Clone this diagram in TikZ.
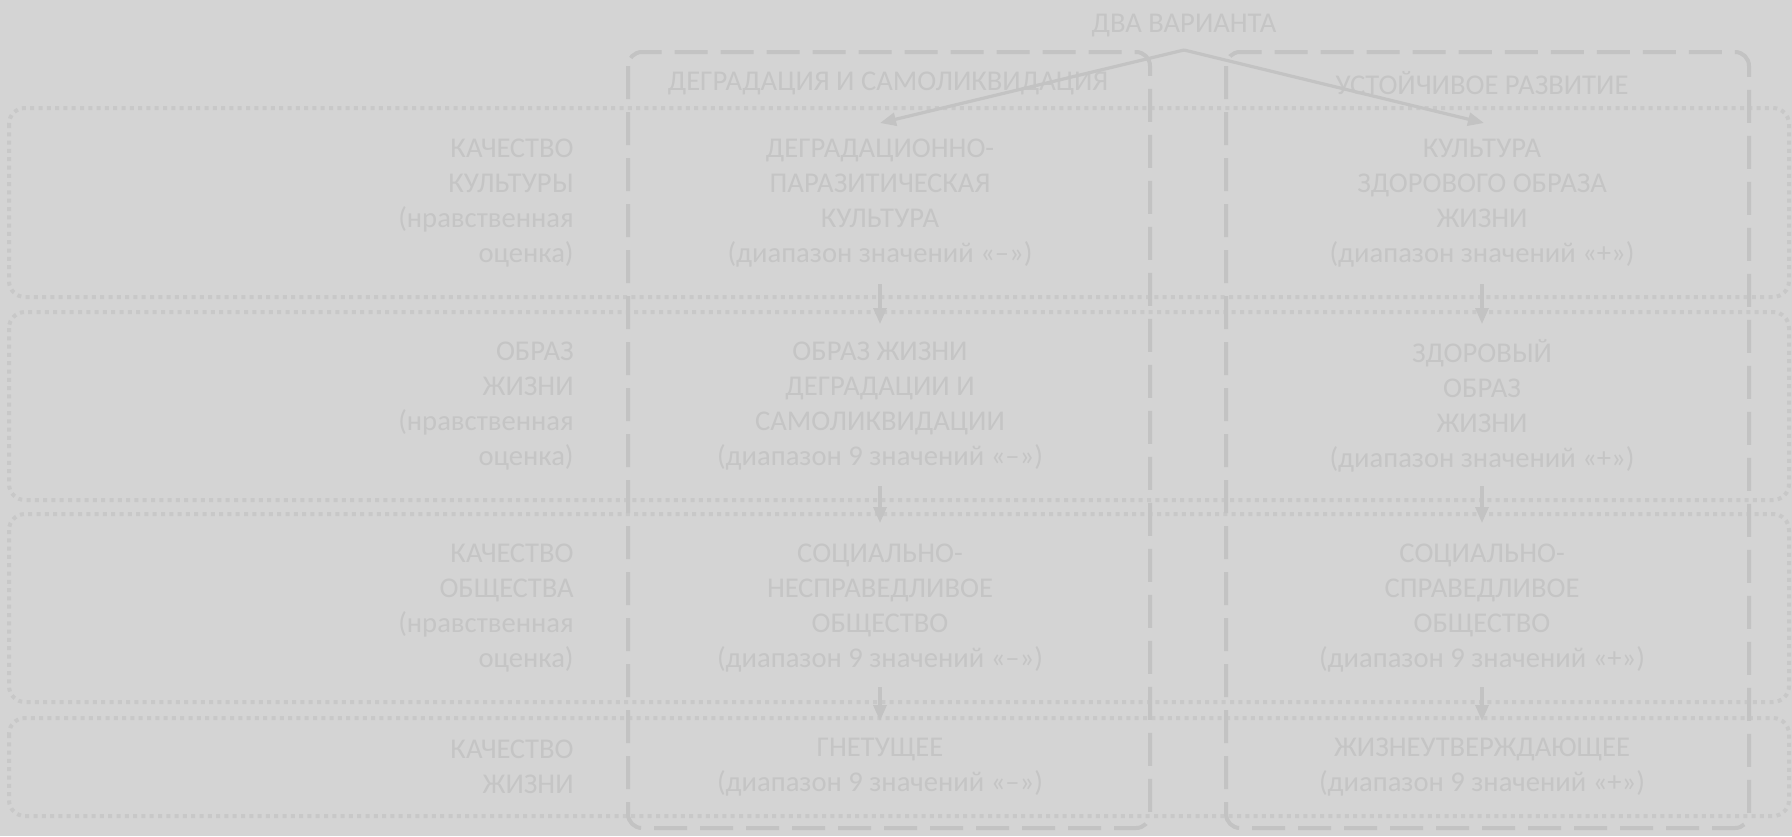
\documentclass[tikz,border=0pt]{standalone}
\usepackage{fontspec}
\setmainfont{Carlito}
\usetikzlibrary{arrows.meta}
\definecolor{bg}{HTML}{D4D4D4}
\definecolor{ln}{HTML}{C3C3C3}
\definecolor{dt}{HTML}{C8C8C8}
\definecolor{tx}{HTML}{C5C5C5}
\begin{document}
\begin{tikzpicture}[x=0.5pt,y=-0.5pt,
  txt/.style={text=tx, font=\fontsize{14.3}{17.45}\selectfont, inner sep=0pt},
  lbl/.style={txt, align=right, anchor=east},
  cell/.style={txt, align=center},
  rowbox/.style={draw=dt, line width=2pt, dash pattern=on 2pt off 2.15pt, rounded corners=8pt},
  varbox/.style={draw=ln, line width=2pt, dash pattern=on 16.5pt off 6.5pt, rounded corners=7pt},
  arr/.style={draw=ln, line width=1.6pt, -{Triangle[width=6.5pt,length=8pt]}}]
\useasboundingbox (0,0) rectangle (1792,836);
\fill[bg] (0,0) rectangle (1792,836);
% rows
\draw[rowbox] (9,108) rectangle (1789,297);
\draw[rowbox] (9,312) rectangle (1789,500);
\draw[rowbox] (9,514) rectangle (1789,702);
\draw[rowbox] (9,718) rectangle (1789,816);
% variant boxes
\draw[varbox] (628,52) rectangle (1150,828);
\draw[varbox] (1226,52) rectangle (1749,828);
% titles
\node[txt] (top) at (1184,26) {ДВА ВАРИАНТА};
\node[txt] (tl) at (888,83) {ДЕГРАДАЦИЯ И САМОЛИКВИДАЦИЯ};
\node[txt] (tr) at (1482,83) {УСТОЙЧИВОЕ РАЗВИТИЕ};
% left labels
\node[lbl] (l1) at (574,203) {КАЧЕСТВО\\КУЛЬТУРЫ\\(нравственная\\оценка)};
\node[lbl] (l2) at (574,406) {ОБРАЗ\\ЖИЗНИ\\(нравственная\\оценка)};
\node[lbl] (l3) at (574,608) {КАЧЕСТВО\\ОБЩЕСТВА\\(нравственная\\оценка)};
\node[lbl] (l4) at (574,767) {КАЧЕСТВО\\ЖИЗНИ};
% left column
\node[cell] (c1) at (880,203) {ДЕГРАДАЦИОННО-\\ПАРАЗИТИЧЕСКАЯ\\КУЛЬТУРА\\(диапазон значений «–»)};
\node[cell] (c2) at (880,406) {ОБРАЗ ЖИЗНИ\\ДЕГРАДАЦИИ И\\САМОЛИКВИДАЦИИ\\(диапазон 9 значений «–»)};
\node[cell] (c3) at (880,608) {СОЦИАЛЬНО-\\НЕСПРАВЕДЛИВОЕ\\ОБЩЕСТВО\\(диапазон 9 значений «–»)};
\node[cell] (c4) at (880,767) {ГНЕТУЩЕЕ\\(диапазон 9 значений «–»)};
% right column
\node[cell] (r1) at (1482,203) {КУЛЬТУРА\\ЗДОРОВОГО ОБРАЗА\\ЖИЗНИ\\(диапазон значений «+»)};
\node[cell] (r2) at (1482,406) {ЗДОРОВЫЙ\\ОБРАЗ\\ЖИЗНИ\\(диапазон значений «+»)};
\node[cell] (r3) at (1482,608) {СОЦИАЛЬНО-\\СПРАВЕДЛИВОЕ\\ОБЩЕСТВО\\(диапазон 9 значений «+»)};
\node[cell] (r4) at (1482,767) {ЖИЗНЕУТВЕРЖДАЮЩЕЕ\\(диапазон 9 значений «+»)};
% arrow points
\coordinate (apex) at (1184,50);
\coordinate (tc1) at (880,123);
\coordinate (tr1) at (1484,123);
\coordinate (c1s) at (880,284);
\coordinate (c2n) at (880,324);
\coordinate (c2s) at (880,486);
\coordinate (c3n) at (880,523);
\coordinate (c3s) at (880,687);
\coordinate (c4n) at (880,721);
\coordinate (r1s) at (1482,284);
\coordinate (r2n) at (1482,324);
\coordinate (r2s) at (1482,486);
\coordinate (r3n) at (1482,523);
\coordinate (r3s) at (1482,687);
\coordinate (r4n) at (1482,721);
\draw[arr] (apex) -- (tc1);
\draw[arr] (apex) -- (tr1);
\draw[arr] (c1s) -- (c2n);
\draw[arr] (c2s) -- (c3n);
\draw[arr] (c3s) -- (c4n);
\draw[arr] (r1s) -- (r2n);
\draw[arr] (r2s) -- (r3n);
\draw[arr] (r3s) -- (r4n);
\end{tikzpicture}
\end{document}
